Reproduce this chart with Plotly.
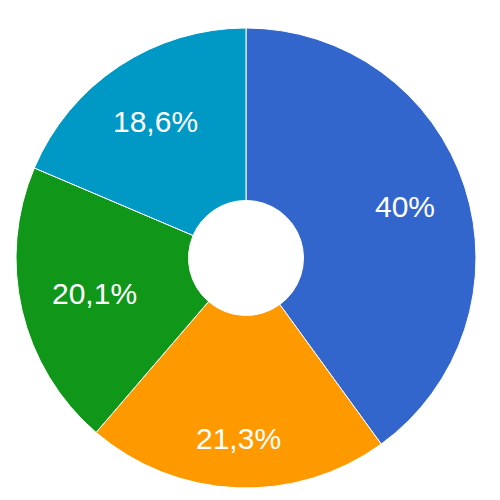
import math
import plotly.graph_objects as go

labels = ["A", "B", "C", "D"]
values = [40.0, 21.3, 20.1, 18.6]
colors = ["#3366CC", "#FF9900", "#109618", "#0099C6"]

def fmt(v):
    s = f"{v:.1f}"
    if s.endswith(".0"):
        s = s[:-2]
    return s.replace(".", ",") + "%"

texts = [fmt(v) for v in values]

W = H = 500
FONT = 30
# pie geometry (pixels, plotly coords, top-down)
cx, cy, R = 238.0, 250.0, 230.0
R_TEXT = 0.86 * R

fig = go.Figure(go.Pie(
    labels=labels,
    values=values,
    textinfo="none",
    hole=0.25,
    sort=False,
    direction="clockwise",
    rotation=0,
    marker=dict(colors=colors, line=dict(color="white", width=1)),
    domain=dict(x=[(cx - R) / W, (cx + R) / W], y=[(H - cy - R) / H, (H - cy + R) / H]),
    showlegend=False,
    hoverinfo="label+percent",
))

# Arial advance widths (em)
adv = {",": 0.278, "%": 0.889, ".": 0.278}
def text_width(s):
    return sum(adv.get(ch, 0.556) for ch in s) * 29

total = sum(values)
cum = 0.0
annotations = []
for v, t in zip(values, texts):
    mid = (cum + v / 2) / total * 2 * math.pi
    cum += v
    ux, uy = math.sin(mid), -math.cos(mid)  # screen direction (y down)
    hw, hh = text_width(t) / 2, 11.0
    b = abs(ux) * hw + abs(uy) * hh
    c = hw * hw + hh * hh - R_TEXT * R_TEXT
    d = -b + math.sqrt(b * b - c)
    px, py = cx + d * ux, cy + d * uy
    annotations.append(dict(
        x=px / W, y=1 - py / H, xref="paper", yref="paper",
        text=t, showarrow=False, xanchor="center", yanchor="middle",
        font=dict(family="Liberation Sans, Arial", size=FONT, color="white"),
    ))

fig.update_layout(
    width=W, height=H,
    margin=dict(l=0, r=0, t=0, b=0),
    paper_bgcolor="white",
    plot_bgcolor="white",
    annotations=annotations,
)
fig.write_html("out.html")
